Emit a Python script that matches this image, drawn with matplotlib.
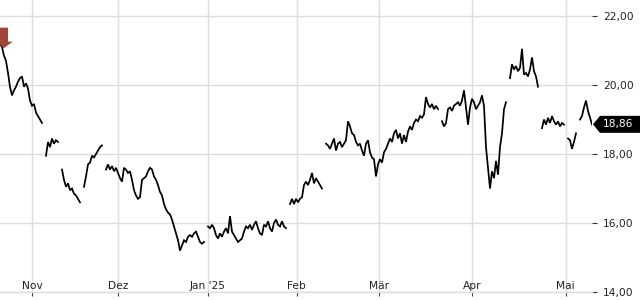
import numpy as np
import matplotlib
matplotlib.use("Agg")
import matplotlib.pyplot as plt
from matplotlib.patches import Polygon
from matplotlib.ticker import FuncFormatter
import matplotlib.transforms as mtransforms

nan = np.nan
# closing prices sampled along the session axis (nan = data gap)
price = [
    21.20, 21.10, 20.85, 20.70, 20.35, 19.95, 19.70, 19.85, 19.95, 20.10,
    20.20, 20.25, 19.95, 20.05, 19.90, 19.55, 19.40, 19.45, 19.20, 19.10,
    19.00, 18.90, nan, 17.95, 18.35, 18.20, 18.45, 18.30, 18.40, 18.35,
    nan, 17.55, 17.25, 17.05, 17.15, 16.95, 17.00, 16.85, 16.80, 16.70,
    16.60, nan, 17.05, 17.35, 17.70, 17.75, 17.95, 17.90, 18.00, 18.10,
    18.20, 18.25, nan, 17.55, 17.70, 17.55, 17.65, 17.50, 17.60, 17.45,
    17.30, 17.20, 17.60, 17.55, 17.45, 17.50, 17.25, 16.95, 16.80, 16.70,
    16.75, 17.25, 17.30, 17.35, 17.50, 17.60, 17.55, 17.35, 17.25, 17.10,
    16.90, 16.80, 16.55, 16.40, 16.30, 16.25, 16.10, 15.90, 15.70, 15.50,
    15.20, 15.35, 15.50, 15.45, 15.60, 15.65, 15.60, 15.70, 15.75, 15.60,
    15.45, 15.40, 15.45, nan, 15.90, 15.85, 15.95, 15.85, 15.65, 15.55,
    15.70, 15.60, 15.75, 15.85, 15.70, 16.20, 15.75, 15.65, 15.55, 15.45,
    15.50, 15.55, 15.75, 15.90, 15.85, 15.95, 15.80, 15.95, 16.05, 15.85,
    15.70, 15.65, 15.95, 15.90, 16.05, 15.85, 15.75, 16.00, 16.10, 15.95,
    15.90, 16.05, 15.90, 15.85, nan, 16.55, 16.70, 16.55, 16.70, 16.60,
    16.70, 16.75, 17.10, 17.20, 17.10, 17.25, 17.45, 17.15, 17.30, 17.20,
    17.10, 17.00, nan, 18.30, 18.25, 18.15, 18.30, 18.45, 18.10, 18.30,
    18.35, 18.20, 18.30, 18.40, 18.95, 18.80, 18.60, 18.55, 18.35, 18.25,
    18.30, 18.10, 17.95, 18.30, 18.40, 18.05, 17.90, 17.85, 17.35, 17.70,
    17.85, 17.75, 18.05, 18.15, 18.30, 18.45, 18.35, 18.60, 18.70, 18.45,
    18.60, 18.30, 18.55, 18.35, 18.65, 18.80, 18.70, 18.90, 19.00, 18.95,
    19.10, 19.05, 19.15, 19.65, 19.45, 19.35, 19.45, 19.30, 19.40, 19.30,
    nan, 18.95, 18.80, 18.90, 19.30, 19.35, 19.25, 19.40, 19.45, 19.50,
    19.40, 19.55, 19.85, 19.35, 18.85, 19.35, 19.60, 19.50, 19.30, 19.40,
    19.50, 19.70, 19.40, 18.20, 17.60, 17.00, 17.50, 17.30, 17.80, 17.40,
    18.20, 18.60, 19.30, 19.50, nan, 20.20, 20.60, 20.45, 20.55, 20.40,
    20.50, 21.05, 20.30, 20.35, 20.25, 20.45, 20.80, 20.40, 20.25, 19.95,
    nan, 18.75, 19.00, 18.85, 19.05, 18.90, 19.10, 18.95, 18.85, 18.95,
    18.80, 18.90, 18.85, nan, 18.45, 18.40, 18.15, 18.35, 18.60, nan,
    19.00, 19.10, 19.35, 19.55, 19.25, 19.05, 18.86,
]
month_pos = [16.2, 59.2, 104.0, 148.3, 189.5, 236.0, 282.8]
month_labels = ["Nov", "Dez", "Jan '25", "Feb", "Mär", "Apr", "Mai"]
y_ticks = [14, 16, 18, 20, 22]
last_value = 18.86

session = np.arange(len(price))

fig = plt.figure(figsize=(6.4, 3.0), dpi=100)
ax = fig.add_axes([0, 8 / 300, 592 / 640, 292 / 300])
ax.set_xlim(0, len(price) - 1)
ax.set_ylim(14, 22.465)

ax.plot(session, price, color="black", lw=1.25, solid_joinstyle="miter", zorder=3)

for s in ["top", "left", "right"]:
    ax.spines[s].set_visible(False)
ax.spines["bottom"].set_color("#dddddd")
ax.spines["bottom"].set_linewidth(1)

ax.set_yticks(y_ticks)
ax.yaxis.tick_right()
ax.yaxis.set_major_formatter(FuncFormatter(lambda v, p: f"{v:.2f}".replace(".", ",")))
ax.tick_params(axis="y", length=3.6, width=0.8, color="#333333", pad=4.3,
               labelsize=7.7, labelcolor="#222222")

ax.set_xticks(month_pos)
ax.set_xticklabels(month_labels)
ax.tick_params(axis="x", length=2.9, width=0.8, color="#444444", pad=-11,
               labelsize=7.7, labelcolor="#222222")

ax.grid(True, color="#dddddd", lw=1)
ax.set_axisbelow(True)

# start marker (down arrow)
px0, py0 = ax.transData.transform((session[0], price[0]))
arrow = [(0, 16), (8, 16), (8, 2), (12.7, 2), (4, -4.5), (-4.7, 2), (0, 2)]
arr = Polygon(arrow, closed=True, facecolor="#9c3a2e", edgecolor="none", alpha=0.95,
              transform=mtransforms.Affine2D().translate(px0, py0), zorder=5)
arr.set_clip_path(ax.patch)
ax.add_artist(arr)

# last value label
pxe, pye = ax.transData.transform((session[-1], last_value))
box = [(1, 0), (8, 8.5), (50, 8.5), (50, -8.5), (8, -8.5)]
lab = Polygon(box, closed=True, facecolor="black", edgecolor="none",
              transform=mtransforms.Affine2D().translate(pxe, pye), zorder=6)
lab.set_clip_on(False)
ax.add_artist(lab)
ax.annotate(f"{last_value:.2f}".replace(".", ","), xy=(session[-1], last_value),
            xytext=(26, 0), textcoords="offset pixels", ha="center", va="center",
            color="white", fontsize=7.7, zorder=7, annotation_clip=False)

fig.savefig("out.png", dpi=100)
